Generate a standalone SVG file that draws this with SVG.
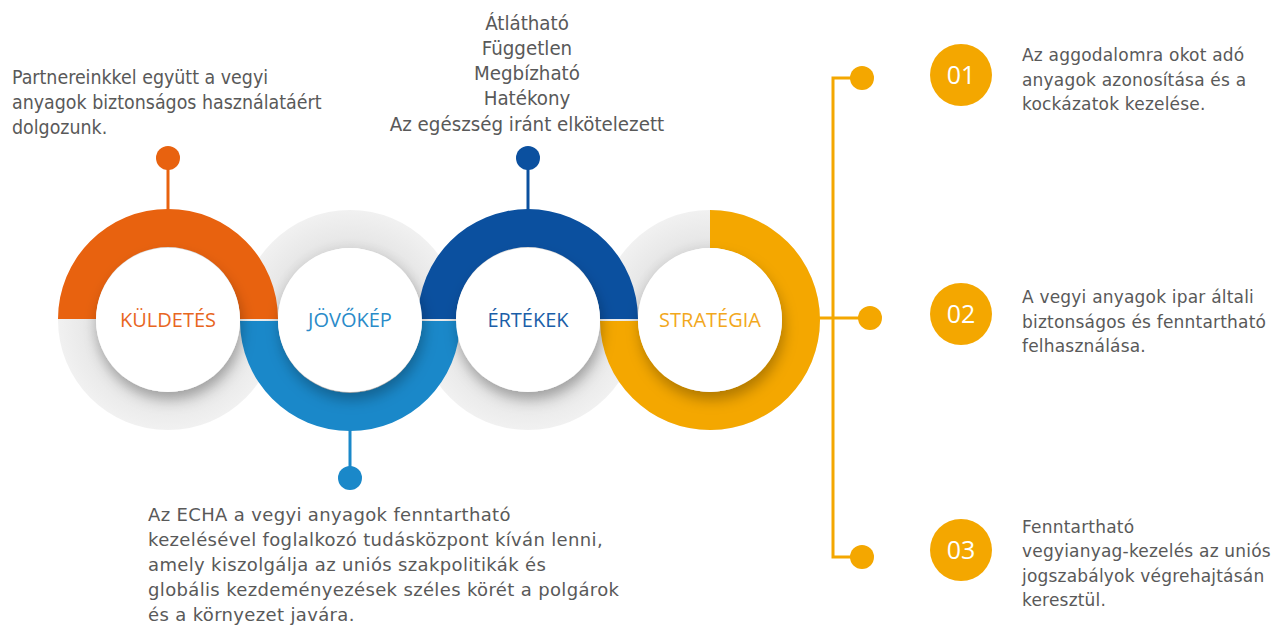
<svg xmlns="http://www.w3.org/2000/svg" width="1275" height="630" viewBox="0 0 1275 630">
  <defs>
    <style>
      .gray { fill: url(#grayGrad); }
      .white { fill: #ffffff; filter: url(#shadow); }
      .label { font-family: "Open Sans", "Noto Sans", sans-serif; font-size: 20px; text-anchor: middle; }
      .body { font-family: "DejaVu Sans", Verdana, sans-serif; font-size: 17px; letter-spacing: 0.2px; fill: #595959; }
      .body2 { font-family: "DejaVu Sans", Verdana, sans-serif; font-size: 18px; letter-spacing: 0.35px; fill: #595959; }
      .cond { font-family: "DejaVu Sans Condensed", "DejaVu Sans", sans-serif; font-stretch: condensed; font-size: 19.4px; fill: #595959; }
      .cond2 { font-family: "DejaVu Sans Condensed", "DejaVu Sans", sans-serif; font-stretch: condensed; font-size: 20.3px; fill: #595959; text-anchor: middle; }
      .num { font-family: "Open Sans", "Noto Sans", sans-serif; font-size: 25px; fill: #ffffff; text-anchor: middle; }
      .conn { fill: none; stroke-width: 3; }
    </style>
    <radialGradient id="grayGrad" cx="0.5" cy="0.5" r="0.5">
      <stop offset="0.6" stop-color="#d9d9d9"/>
      <stop offset="0.75" stop-color="#e8e8e8"/>
      <stop offset="1" stop-color="#f1f1f1"/>
    </radialGradient>
    <filter id="shadow" x="-30%" y="-30%" width="160%" height="170%">
      <feDropShadow dx="2" dy="8" stdDeviation="7" flood-color="#000000" flood-opacity="0.28"/>
    </filter>
  </defs>

  <!-- gray background rings -->
  <g id="gray-rings">
    <path class="gray" fill-rule="evenodd" d="M58,320 a110,110 0 1,0 220,0 a110,110 0 1,0 -220,0 Z M96,320 a72,72 0 1,0 144,0 a72,72 0 1,0 -144,0 Z"/>
    <path class="gray" fill-rule="evenodd" d="M240,320 a110,110 0 1,0 220,0 a110,110 0 1,0 -220,0 Z M278,320 a72,72 0 1,0 144,0 a72,72 0 1,0 -144,0 Z"/>
    <path class="gray" fill-rule="evenodd" d="M418,320 a110,110 0 1,0 220,0 a110,110 0 1,0 -220,0 Z M456,320 a72,72 0 1,0 144,0 a72,72 0 1,0 -144,0 Z"/>
    <path class="gray" fill-rule="evenodd" d="M600,320 a110,110 0 1,0 220,0 a110,110 0 1,0 -220,0 Z M638,320 a72,72 0 1,0 144,0 a72,72 0 1,0 -144,0 Z"/>
  </g>

  <!-- coloured arcs -->
  <g id="arcs">
    <path fill="#e8620f" d="M58,319 A110,110 0 0 1 278,319 L240,319 A72,72 0 0 0 96,319 Z"/>
    <path fill="#1a88c9" d="M240,321 A110,110 0 0 0 460,321 L422,321 A72,72 0 0 1 278,321 Z"/>
    <path fill="#0b509f" d="M418,319 A110,110 0 0 1 638,319 L600,319 A72,72 0 0 0 456,319 Z"/>
    <path fill="#f4a700" d="M710,210 A110,110 0 1 1 600,321 L638,321 A72,72 0 1 0 710,248 Z"/>
  </g>

  <!-- connectors -->
  <g id="connectors">
    <line class="conn" stroke="#e8620f" x1="168" y1="158" x2="168" y2="211"/>
    <circle cx="168" cy="158" r="12" fill="#e8620f"/>
    <line class="conn" stroke="#0b509f" x1="528" y1="158" x2="528" y2="211"/>
    <circle cx="528" cy="158" r="12" fill="#0b509f"/>
    <line class="conn" stroke="#1a88c9" x1="350" y1="429" x2="350" y2="478"/>
    <circle cx="350" cy="478" r="12" fill="#1a88c9"/>
    <line class="conn" stroke="#f4a700" x1="818" y1="318" x2="870" y2="318"/>
    <path class="conn" stroke="#f4a700" d="M862,78 H833 V557 H862"/>
    <circle cx="862" cy="78" r="12" fill="#f4a700"/>
    <circle cx="870" cy="318" r="12" fill="#f4a700"/>
    <circle cx="862" cy="557" r="12" fill="#f4a700"/>
  </g>

  <!-- nodes -->
  <g id="kuldetes">
    <circle class="white" cx="168" cy="320" r="72"/>
    <text class="label" x="168" y="327" fill="#e8661e">KÜLDETÉS</text>
  </g>
  <g id="jovokep">
    <circle class="white" cx="350" cy="320" r="72"/>
    <text class="label" x="350" y="327" fill="#2a8bc9">JÖVŐKÉP</text>
  </g>
  <g id="ertekek">
    <circle class="white" cx="528" cy="320" r="72"/>
    <text class="label" x="528" y="327" fill="#1a5ea8">ÉRTÉKEK</text>
  </g>
  <g id="strategia">
    <circle class="white" cx="710" cy="320" r="72"/>
    <text class="label" x="710" y="327" fill="#f2a81d">STRATÉGIA</text>
  </g>

  <g id="mission-text">
    <text class="cond" x="12" y="84">Partnereinkkel együtt a vegyi</text>
    <text class="cond" x="12" y="109">anyagok biztonságos használatáért</text>
    <text class="cond" x="12" y="134">dolgozunk.</text>
  </g>

  <g id="values-text">
    <text class="cond2" x="527" y="30">Átlátható</text>
    <text class="cond2" x="527" y="55">Független</text>
    <text class="cond2" x="527" y="80">Megbízható</text>
    <text class="cond2" x="527" y="105">Hatékony</text>
    <text class="cond2" x="527" y="131">Az egészség iránt elkötelezett</text>
  </g>

  <g id="vision-text">
    <text class="body2" x="148" y="521">Az ECHA a vegyi anyagok fenntartható</text>
    <text class="body2" x="148" y="546">kezelésével foglalkozó tudásközpont kíván lenni,</text>
    <text class="body2" x="148" y="571">amely kiszolgálja az uniós szakpolitikák és</text>
    <text class="body2" x="148" y="596">globális kezdeményezések széles körét a polgárok</text>
    <text class="body2" x="148" y="621">és a környezet javára.</text>
  </g>

  <g id="strategy-01">
    <circle cx="961" cy="75" r="31" fill="#f4a700"/>
    <text class="num" x="961" y="84">01</text>
    <text class="body" x="1022" y="61">Az aggodalomra okot adó</text>
    <text class="body" x="1022" y="86">anyagok azonosítása és a</text>
    <text class="body" x="1022" y="110">kockázatok kezelése.</text>
  </g>
  <g id="strategy-02">
    <circle cx="961" cy="314" r="31" fill="#f4a700"/>
    <text class="num" x="961" y="323">02</text>
    <text class="body" x="1022" y="303">A vegyi anyagok ipar általi</text>
    <text class="body" x="1022" y="328">biztonságos és fenntartható</text>
    <text class="body" x="1022" y="352">felhasználása.</text>
  </g>
  <g id="strategy-03">
    <circle cx="961" cy="550" r="31" fill="#f4a700"/>
    <text class="num" x="961" y="559">03</text>
    <text class="body" x="1022" y="533">Fenntartható</text>
    <text class="body" x="1022" y="557">vegyianyag-kezelés az uniós</text>
    <text class="body" x="1022" y="582">jogszabályok végrehajtásán</text>
    <text class="body" x="1022" y="606">keresztül.</text>
  </g>
</svg>
